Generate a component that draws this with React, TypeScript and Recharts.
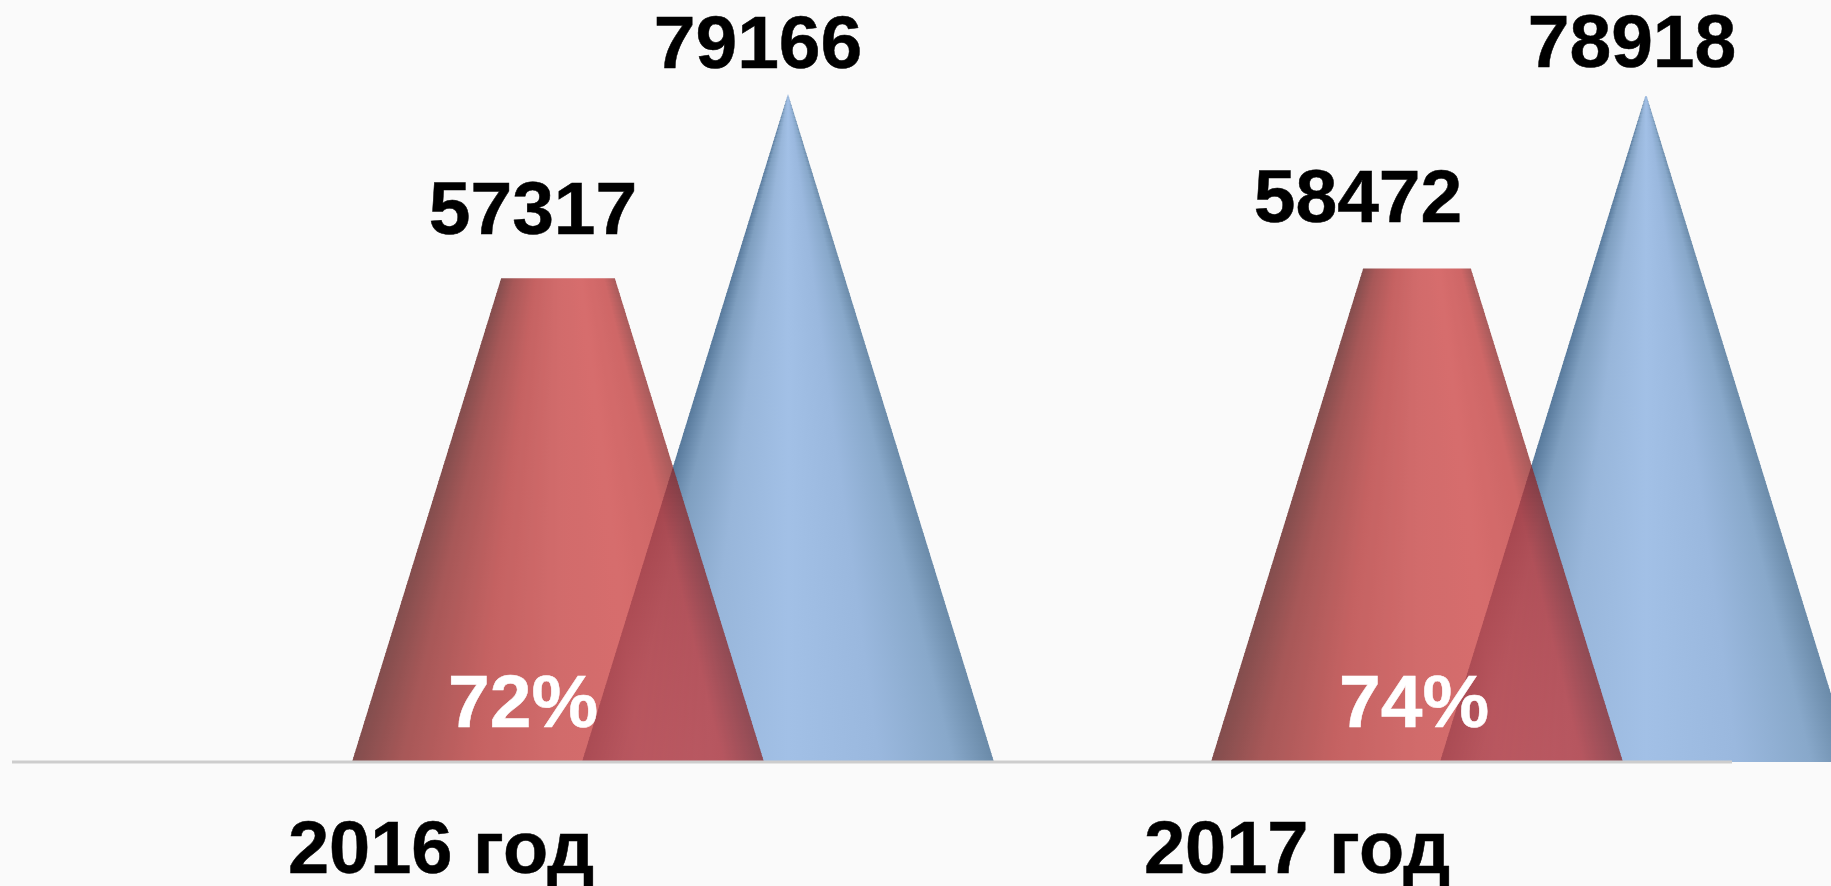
import React from 'react';
import { Bar, BarChart, LabelList, XAxis, YAxis } from 'recharts';

const years = ['2016 год', '2017 год'];
const redValues = [57317, 58472];
const blueValues = [79166, 78918];
const sharePercent = [72, 74];

const data = years.map((year, i) => ({
  year,
  red: redValues[i],
  blue: blueValues[i],
  share: sharePercent[i],
}));

const FONT = '"Liberation Sans", Arial, sans-serif';

// labels in the original were placed by hand, so each one has its own nudge
const redLabelNudge = [{ dx: -25, dy: -44 }, { dx: -59, dy: -47 }];
const blueLabelNudge = [{ dx: -30, dy: -26 }, { dx: -14, dy: -29 }];
const shareLabelNudge = [{ dx: -35, dy: -35 }, { dx: -3, dy: -35 }];

const ConeShape = (props: any) => {
  const { x, y, width, height, background, gradient, coneOpacity } = props;
  const cx = x + width / 2;
  const bottom = y + height;
  const full = background.height;
  const apex = bottom - full;
  const strips = [];
  // one strip per few px so the shading follows the cone's slope
  for (let low = bottom; low > y; low -= 4) {
    const top = Math.max(low - 5, y);
    const hwTop = (width / 2) * ((top - apex) / full);
    const hwLow = (width / 2) * ((low - apex) / full);
    strips.push(
      <polygon
        key={low}
        points={`${cx - hwTop},${top} ${cx + hwTop},${top} ${cx + hwLow},${low} ${cx - hwLow},${low}`}
        fill={`url(#${gradient})`}
      />
    );
  }
  return <g opacity={coneOpacity}>{strips}</g>;
};

const labelContent = (nudges: { dx: number; dy: number }[], color: string, fromBottom: boolean, suffix = '') =>
  (props: any) => {
    const { viewBox, value, index } = props;
    const n = nudges[index];
    const px = viewBox.x + viewBox.width / 2 + n.dx;
    const py = (fromBottom ? viewBox.y + viewBox.height : viewBox.y) + n.dy;
    return (
      <text
        x={px}
        y={py}
        textAnchor="middle"
        fontFamily={FONT}
        fontWeight="bold"
        fontSize={75}
        fill={color}
        stroke={color}
        strokeWidth={0.5}
      >
        {value}{suffix}
      </text>
    );
  };

export default function App() {
  return (
    <div style={{ position: 'absolute', left: 0, top: 0, width: 1831, height: 886, background: '#fafafa', overflow: 'hidden' }}>
      <BarChart
        width={1831}
        height={886}
        data={data}
        margin={{ top: 94, right: 99, bottom: 0, left: 12 }}
      >
        <defs>
          <linearGradient id="redCone" x1="0" y1="0" x2="1" y2="0">
            <stop offset="0%" stopColor="#5a1414" />
            <stop offset="12%" stopColor="#8c2222" />
            <stop offset="30%" stopColor="#b43030" />
            <stop offset="50%" stopColor="#c43c3c" />
            <stop offset="70%" stopColor="#cb3e3e" />
            <stop offset="90%" stopColor="#c03636" />
            <stop offset="100%" stopColor="#8a2626" />
          </linearGradient>
          <linearGradient id="blueCone" x1="0" y1="0" x2="1" y2="0">
            <stop offset="0%" stopColor="#56789a" />
            <stop offset="10%" stopColor="#7f9fc0" />
            <stop offset="28%" stopColor="#98b6da" />
            <stop offset="50%" stopColor="#a2c0e6" />
            <stop offset="72%" stopColor="#9ab8de" />
            <stop offset="90%" stopColor="#88a8ca" />
            <stop offset="100%" stopColor="#6a8aa8" />
          </linearGradient>
        </defs>
        <XAxis
          dataKey="year"
          height={124}
          interval={0}
          tickLine={false}
          axisLine={{ stroke: '#cdcdcd', strokeWidth: 3 }}
          tickMargin={52}
          padding={{ left: 1, right: 7 }}
          tick={{ fontFamily: FONT, fontWeight: 'bold', fontSize: 74, fill: '#000', stroke: '#000', strokeWidth: 0.5 }}
        />
        <XAxis dataKey="year" xAxisId="blueAxis" hide padding={{ left: 347, right: -343 }} />
        <XAxis dataKey="year" xAxisId="redAxis" hide padding={{ left: 116, right: -114 }} />
        <YAxis hide domain={[0, Math.max(...blueValues)]} />
        <Bar
          dataKey="blue"
          xAxisId="blueAxis"
          barSize={412}
          isAnimationActive={false}
          shape={(p: any) => <ConeShape {...p} gradient="blueCone" coneOpacity={1} />}
        >
          <LabelList dataKey="blue" content={labelContent(blueLabelNudge, '#000', false)} />
        </Bar>
        <Bar
          dataKey="red"
          xAxisId="redAxis"
          barSize={412}
          isAnimationActive={false}
          shape={(p: any) => <ConeShape {...p} gradient="redCone" coneOpacity={0.75} />}
        >
          <LabelList dataKey="red" content={labelContent(redLabelNudge, '#000', false)} />
          <LabelList dataKey="share" content={labelContent(shareLabelNudge, '#fff', true, '%')} />
        </Bar>
      </BarChart>
    </div>
  );
}
